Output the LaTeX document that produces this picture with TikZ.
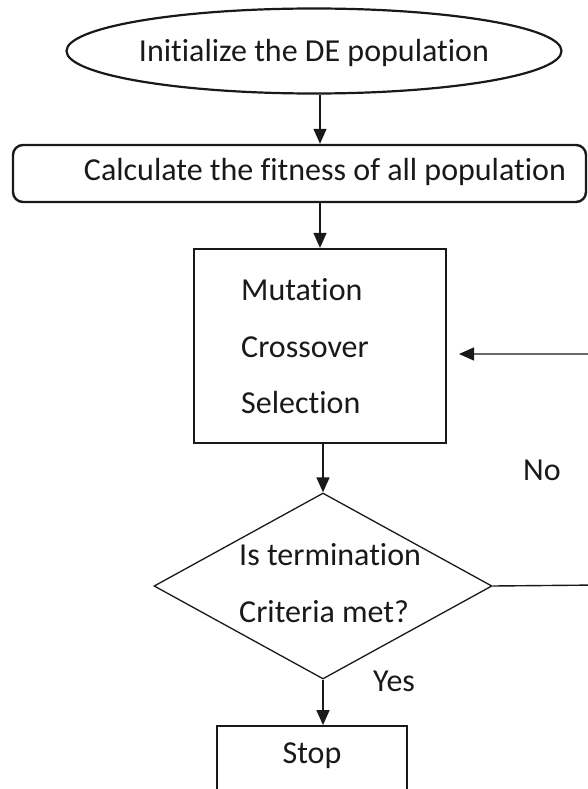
\documentclass[tikz,border=0pt]{standalone}
\usepackage{fontspec}
\setmainfont{Carlito}[Ligatures=NoCommon]
\usetikzlibrary{arrows.meta,shapes.geometric}
\definecolor{inkc}{RGB}{25,25,25}
\begin{document}
\begin{tikzpicture}[x=1pt,y=-1pt,
  every node/.style={font=\fontsize{32}{38}\selectfont, text=inkc},
  arr/.style={draw=inkc, line width=1.4pt, -{Triangle[length=15pt,width=13pt]}},
  txt/.style={anchor=base west, inner sep=0pt},
  frame/.style={draw=inkc, inner sep=0pt}
]
\useasboundingbox (0,0) rectangle (588,789);
\clip (0,0) rectangle (588,789);

\node[frame, ellipse, line width=2.2pt, minimum width=490pt, minimum height=85pt,
      text height=22pt, text depth=0pt] (init) at (314,51) {Initialize the DE population};

\node[frame, rounded corners=10pt, line width=2.4pt, minimum width=573pt, minimum height=57pt,
      text height=22pt, text depth=9pt] (fit) at (299.5,173.5) {\hspace*{51pt}Calculate the fitness of all population};

\node[frame, line width=2.2pt, minimum width=252pt, minimum height=194pt] (ops) at (320,346) {};
\node[txt] (mut) at (241,300) {Mutation};
\node[txt] (cro) at (241,357) {Crossover};
\node[txt] (sel) at (241,413) {Selection};

\node[frame, diamond, line width=1.3pt, minimum width=338pt, minimum height=186pt] (dec) at (323,586) {};
\node[txt] (q1) at (239,565) {Is termination};
\node[txt] (q2) at (239,622) {Criteria met?};

\node[txt] (no) at (523,480) {No};
\node[txt] (yes) at (373,691) {Yes};

\node[frame, line width=1.8pt, minimum width=190pt, minimum height=120pt] (stop) at (312,786) {};
\node[anchor=base, inner sep=0pt] (stoptxt) at (312,763) {Stop};

\coordinate (fbR) at (600,585);
\coordinate (fbT) at (600,354);
\coordinate (fbEnd) at (459,354);

\draw[arr] (init.south -| ops.north) -- (fit.north -| ops.north);
\draw[arr] (fit.south -| ops.north) -- (ops.north);
\draw[arr] (ops.south -| dec.north) -- (dec.north);
\draw[arr] (dec.south) -- (dec.south |- stop.north);
\draw[arr] (dec.east) -- (fbR) -- (fbT) -- (fbEnd);
\end{tikzpicture}
\end{document}
